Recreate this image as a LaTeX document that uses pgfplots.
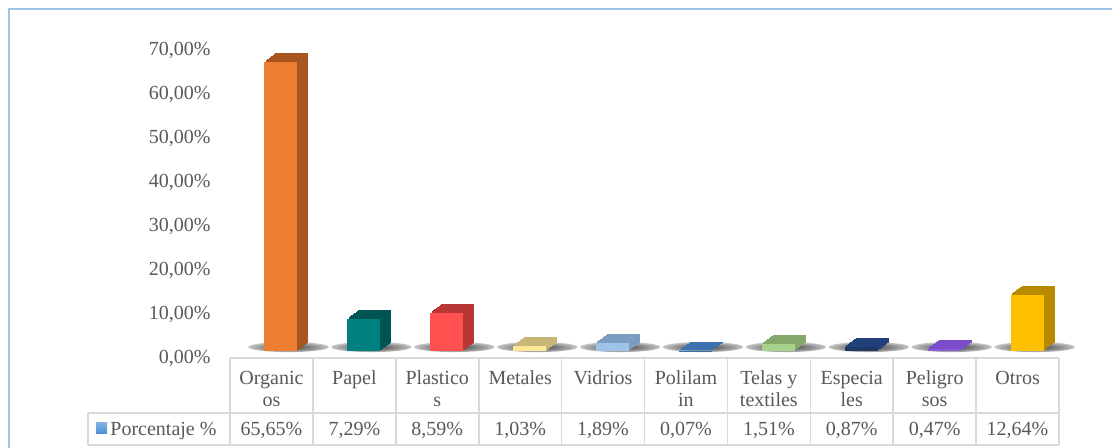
\documentclass[border=0pt]{standalone}
\usepackage{pgfplots}
\pgfplotsset{compat=1.18}
\usepackage{fontspec}
\setmainfont{Liberation Serif}
\definecolor{txt}{HTML}{595959}
\definecolor{grid}{HTML}{D9D9D9}
\definecolor{frame}{HTML}{9DC3E6}
\definecolor{legblue}{HTML}{4A8FD4}
\definecolor{shd}{HTML}{3A3A3A}
\definecolor{shm}{HTML}{9A9A9A}
\definecolor{f0}{HTML}{ED7D31}\definecolor{d0}{HTML}{A85620}
\definecolor{f1}{HTML}{008080}\definecolor{d1}{HTML}{005454}
\definecolor{f2}{HTML}{FF5050}\definecolor{d2}{HTML}{B83636}
\definecolor{f3}{HTML}{FFE699}\definecolor{d3}{HTML}{C8B676}
\definecolor{f4}{HTML}{9DC3E6}\definecolor{d4}{HTML}{7B9DBF}
\definecolor{f5}{HTML}{2E75B6}\definecolor{d5}{HTML}{3B72AD}
\definecolor{f6}{HTML}{A9D18E}\definecolor{d6}{HTML}{84A86C}
\definecolor{f7}{HTML}{203864}\definecolor{d7}{HTML}{213F7A}
\definecolor{f8}{HTML}{8A5CD8}\definecolor{d8}{HTML}{7B4DCB}
\definecolor{f9}{HTML}{FFC000}\definecolor{d9}{HTML}{B88A00}
\pgfdeclareradialshading{floorshadow}{\pgfpoint{0bp}{0bp}}{color(0bp)=(shd); color(18bp)=(shm); color(34bp)=(white); color(50bp)=(white)}

\pgfplotsset{layer/.style={ybar,bar width=16.5pt,bar shift=4.75pt,fill=#1,draw=none,forget plot,
  y filter/.expression={y+0.25}}}
\newcommand{\tdbar}[4]{%
\addplot[layer=#4,xshift=5.5pt,yshift=4pt] coordinates {(#1,#2)};
\addplot[layer=#4,xshift=4.8125pt,yshift=3.5pt] coordinates {(#1,#2)};
\addplot[layer=#4,xshift=4.125pt,yshift=3pt] coordinates {(#1,#2)};
\addplot[layer=#4,xshift=3.4375pt,yshift=2.5pt] coordinates {(#1,#2)};
\addplot[layer=#4,xshift=2.75pt,yshift=2pt] coordinates {(#1,#2)};
\addplot[layer=#4,xshift=2.0625pt,yshift=1.5pt] coordinates {(#1,#2)};
\addplot[layer=#4,xshift=1.375pt,yshift=1pt] coordinates {(#1,#2)};
\addplot[layer=#4,xshift=0.6875pt,yshift=0.5pt] coordinates {(#1,#2)};
\addplot[ybar,bar width=16.5pt,bar shift=4.75pt,fill=#3,draw=none,forget plot] coordinates {(#1,#2)};
}
\pgfplotsset{base/.style={
  at={(115pt,48.5pt)}, anchor=south west,
  scale only axis, width=414.5pt, height=154pt,
  xmin=-0.5, xmax=9.5, ymin=0, ymax=70,
  clip=false}}

\begin{document}
\begin{tikzpicture}[font=\fontsize{10}{12}\selectfont]
\useasboundingbox (0,0) rectangle (556pt,224pt);
\fill[white] (0,0) rectangle (556pt,224pt);
% floor shadows (drawn first, behind the bars)
\begin{axis}[base, hide axis]
\addplot[draw=none, mark=none, forget plot,
  nodes near coords={},
  every node near coord/.style={anchor=center, xshift=8.5pt, yshift=2pt, xscale=6.7, yscale=0.85,
    circle, inner sep=0pt, minimum size=6pt,
    shade, shading=floorshadow}]
  coordinates {(0,0) (1,0) (2,0) (3,0) (4,0) (5,0) (6,0) (7,0) (8,0) (9,0)};
\end{axis}
\begin{axis}[
  base,
  axis line style={draw=none},
  major tick length=0pt,
  xtick=\empty,
  ytick={0,10,20,30,40,50,60,70},
  yticklabels={{0,00\%},{10,00\%},{20,00\%},{30,00\%},{40,00\%},{50,00\%},{60,00\%},{70,00\%}},
  yticklabel style={font=\fontsize{10}{12}\selectfont, text=txt, xshift=-6.2pt, yshift=-3.5pt},
]
\tdbar{0}{65.65}{f0}{d0}
\tdbar{1}{7.29}{f1}{d1}
\tdbar{2}{8.59}{f2}{d2}
\tdbar{3}{1.03}{f3}{d3}
\tdbar{4}{1.89}{f4}{d4}
\tdbar{5}{0.07}{f5}{d5}
\tdbar{6}{1.51}{f6}{d6}
\tdbar{7}{0.87}{f7}{d7}
\tdbar{8}{0.47}{f8}{d8}
\tdbar{9}{12.64}{f9}{d9}
\end{axis}
\begin{scope}[x=0.5pt,y=0.5pt]
% frame
\draw[frame, line width=1pt] (9,-10) -- (9,439) -- (1120,439);
% table
\draw[grid, line width=0.8pt] (230,90) -- (1059,90);
\draw[grid, line width=0.8pt] (88,35) -- (1059,35);
\draw[grid, line width=0.8pt] (88,3) -- (1059,3);
\draw[grid, line width=0.8pt] (88,35) -- (88,3);
\foreach \k in {0,...,10} {\draw[grid, line width=0.8pt] (230+82.9*\k,90) -- (230+82.9*\k,3);}
\foreach \k/\a/\b/\v in {0/Organic/os/{65,65\%},1/Papel//{7,29\%},2/Plastico/s/{8,59\%},3/Metales//{1,03\%},4/Vidrios//{1,89\%},5/Polilam/in/{0,07\%},6/Telas y/textiles/{1,51\%},7/Especia/les/{0,87\%},8/Peligro/sos/{0,47\%},9/Otros//{12,64\%}} {
  \node[anchor=base, text=txt, inner sep=0pt] at (271.45+82.9*\k,63) {\a};
  \node[anchor=base, text=txt, inner sep=0pt] at (271.45+82.9*\k,41) {\b};
  \node[anchor=base, text=txt, inner sep=0pt] at (271.45+82.9*\k,12) {\v};
}
\shade[top color=legblue!70, bottom color=legblue] (96,14) rectangle (107,25);
\node[anchor=base west, text=txt, inner sep=0pt] at (110,12) {Porcentaje \%};
\end{scope}
\end{tikzpicture}
\end{document}
